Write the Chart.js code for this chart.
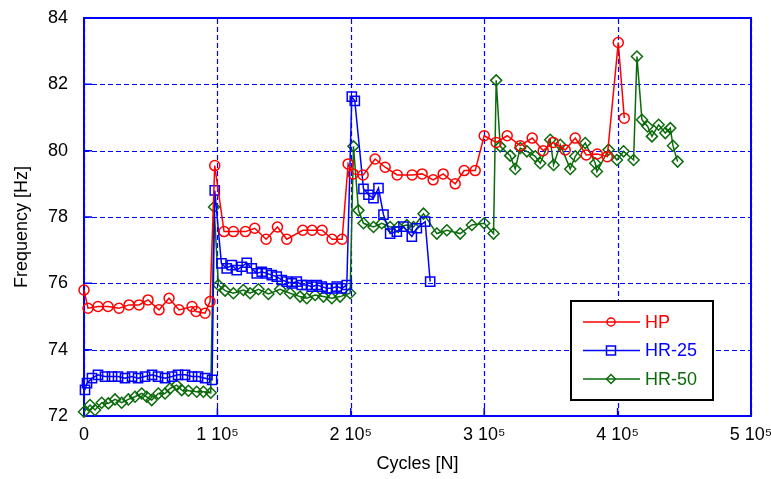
<!DOCTYPE html>
<html>
<head>
<meta charset="utf-8">
<title>Frequency vs cycles</title>
<script src="https://cdn.jsdelivr.net/npm/chart.js@4.4.1/dist/chart.umd.min.js"></script>
<style>
    html, body { margin: 0; padding: 0; background: #fff; }
    #wrap { width: 771px; height: 479px; position: relative; }
</style>
</head>
<body>
<div id="wrap"><canvas id="freqChart" width="771" height="479"></canvas></div>
<script>
// Data (cycles, frequency in Hz)
const hpCycles = [0, 3000, 10500, 18000, 26250, 33750, 41250, 48000, 56250, 63750, 71250, 81000, 84000, 90750, 94500,
    98000, 105000, 112000, 121000, 128000, 136500, 145000, 152000, 164000, 171000, 178500, 186000, 193500,
    198000, 201750, 209250, 218250, 225750, 234750, 246000, 253500, 261750, 269250, 278250, 285000, 293250,
    300000, 309000, 317250, 327000, 336000, 344250, 351750, 360750, 368250, 376500, 384750, 392250,
    400500, 405000];
const hpFreq = [75.8, 75.25, 75.3, 75.3, 75.25, 75.35, 75.35, 75.5, 75.2, 75.55, 75.2, 75.3, 75.15, 75.1, 75.45,
    79.55, 77.56, 77.56, 77.56, 77.66, 77.33, 77.7, 77.33, 77.6, 77.6, 77.6, 77.33, 77.33,
    79.6, 79.3, 79.27, 79.75, 79.5, 79.27, 79.27, 79.3, 79.12, 79.3, 79.0, 79.4, 79.4,
    80.45, 80.25, 80.45, 80.15, 80.38, 80.0, 80.25, 80.02, 80.38, 79.87, 79.9, 79.82,
    83.26, 80.98];

const hr25Cycles = [750, 2250, 6000, 10500, 15750, 21000, 25500, 30750, 36000, 40500, 45750, 51000, 55500, 60750,
    66000, 70500, 75750, 81000, 85500, 90750, 96000,
    98000, 103000, 107000, 110750, 114500, 118250, 122000, 125750, 129500, 133250, 137000, 140750, 144500,
    148250, 152000, 155750, 159500, 163250, 167000, 170750, 174500, 178250, 182000, 185750, 189500, 193250, 197000,
    200750, 203000, 209500, 213250, 217000, 220750, 224500, 229500, 234500, 239500, 245750, 249500, 255750, 259500];
const hr25Freq = [72.79, 72.99, 73.14, 73.24, 73.19, 73.19, 73.19, 73.14, 73.19, 73.14, 73.19, 73.24, 73.19, 73.14,
    73.19, 73.24, 73.24, 73.19, 73.19, 73.14, 73.09,
    78.8, 76.6, 76.45, 76.55, 76.4, 76.5, 76.62, 76.45, 76.3, 76.35, 76.3, 76.25, 76.2,
    76.1, 76.05, 76.0, 76.05, 75.95, 75.95, 75.9, 75.95, 75.9, 75.85, 75.85, 75.9, 75.85, 75.95,
    81.63, 81.5, 78.85, 78.67, 78.57, 78.87, 78.07, 77.5, 77.56, 77.71, 77.41, 77.66, 77.86, 76.05];

const hr50Cycles = [0, 4500, 8250, 13250, 18250, 23250, 28250, 33250, 38250, 43250, 47000, 50750, 55750, 60750,
    64500, 69500, 73250, 78250, 84500, 89500, 95000,
    97500, 100750, 105750, 112000, 119500, 124500, 130750, 138250, 147000, 154500, 162000, 167000, 173250,
    179500, 185750, 192000, 199500,
    202000, 205750, 209500, 217000, 223250, 229500, 235500, 242000, 247000, 254500, 264500, 272000, 282000,
    290750, 300000, 307000,
    309000, 312000, 319500, 323250, 327000, 332000, 338250, 342000, 349500, 352000, 357000, 364500, 368250,
    375750, 383250, 384500, 393250, 399500, 404500, 412000,
    414500, 418250, 422500, 425750, 430750, 435750, 439500, 441500, 445000];
const hr50Freq = [72.13, 72.33, 72.18, 72.4, 72.38, 72.5, 72.4, 72.5, 72.58, 72.68, 72.58, 72.48, 72.68, 72.68,
    72.83, 72.93, 72.78, 72.76, 72.73, 72.73, 72.7,
    78.3, 75.95, 75.78, 75.7, 75.8, 75.7, 75.82, 75.68, 75.82, 75.7, 75.6, 75.55, 75.65,
    75.6, 75.55, 75.6, 75.7,
    80.13, 78.2, 77.81, 77.7, 77.81, 77.7, 77.7, 77.76, 77.7, 78.1, 77.5, 77.6, 77.5,
    77.76, 77.81, 77.5,
    82.12, 80.13, 79.85, 79.45, 80.08, 79.98, 79.83, 79.62, 80.33, 79.57, 80.18, 79.45, 79.83,
    80.23, 79.62, 79.37, 80.03, 79.72, 79.98, 79.72,
    82.84, 80.93, 80.73, 80.43, 80.78, 80.53, 80.68, 80.15, 79.67];

const seriesNames = ['HP', 'HR-25', 'HR-50'];
const xTicks = [0, 100000, 200000, 300000, 400000, 500000];
const xTickLabels = ['0', '1 10\u2075', '2 10\u2075', '3 10\u2075', '4 10\u2075', '5 10\u2075'];
const yTicks = [72, 74, 76, 78, 80, 82, 84];
const yTitle = 'Frequency [Hz]';

const RED = '#ff0000';
const BLUE = '#0000ff';
const GREEN = '#0b6b0b';
const FONT = 'Arial, "Liberation Sans", sans-serif';

function toPoints(xs, ys) {
    return xs.map((x, i) => ({ x: x, y: ys[i] }));
}

// dashed grid, blue box round the plot, short solid inner ticks
const framePlugin = {
    id: 'frame',
    beforeDatasetsDraw(chart) {
        const { ctx, chartArea: a, scales } = chart;
        ctx.save();
        ctx.strokeStyle = BLUE;

        ctx.lineWidth = 1.2;
        ctx.setLineDash([5, 3]);
        ctx.beginPath();
        xTicks.forEach(v => {
            const px = Math.round(scales.x.getPixelForValue(v)) + 0.5;
            ctx.moveTo(px, a.bottom);
            ctx.lineTo(px, a.top);
        });
        yTicks.forEach(v => {
            const py = Math.round(scales.y.getPixelForValue(v)) + 0.5;
            ctx.moveTo(a.left, py);
            ctx.lineTo(a.right, py);
        });
        ctx.stroke();
        ctx.setLineDash([]);

        ctx.lineWidth = 1.5;
        ctx.beginPath();
        xTicks.forEach(v => {
            const px = scales.x.getPixelForValue(v);
            ctx.moveTo(px, a.bottom);
            ctx.lineTo(px, a.bottom - 8);
        });
        yTicks.forEach(v => {
            const py = scales.y.getPixelForValue(v);
            ctx.moveTo(a.left, py);
            ctx.lineTo(a.left + 8, py);
        });
        ctx.stroke();

        ctx.lineWidth = 2;
        ctx.strokeRect(a.left, a.top, a.right - a.left, a.bottom - a.top);
        ctx.restore();
    },
    afterDraw(chart) {
        // y title sits a little below the plot's middle in the reference
        const ctx = chart.ctx;
        ctx.save();
        ctx.translate(22, 227);
        ctx.rotate(-Math.PI / 2);
        ctx.font = '18px ' + FONT;
        ctx.fillStyle = '#000';
        ctx.textAlign = 'center';
        ctx.textBaseline = 'middle';
        ctx.fillText(yTitle, 0, 0);
        ctx.restore();
    }
};

function drawMarker(ctx, style, x, y, r) {
    ctx.beginPath();
    if (style === 'circle') {
        ctx.arc(x, y, r, 0, Math.PI * 2);
    } else if (style === 'rect') {
        ctx.rect(x - r, y - r, r * 2, r * 2);
    } else {
        ctx.moveTo(x, y - r);
        ctx.lineTo(x + r, y);
        ctx.lineTo(x, y + r);
        ctx.lineTo(x - r, y);
        ctx.closePath();
    }
    ctx.stroke();
}

// boxed legend in the lower right of the plot
const boxLegend = {
    id: 'boxLegend',
    afterDraw(chart) {
        const ctx = chart.ctx;
        const bx = 571, by = 301, bw = 142, bh = 99;
        ctx.save();
        ctx.fillStyle = '#fff';
        ctx.fillRect(bx, by, bw, bh);
        ctx.strokeStyle = '#000';
        ctx.lineWidth = 2;
        ctx.strokeRect(bx, by, bw, bh);
        ctx.font = '18px ' + FONT;
        ctx.textBaseline = 'middle';
        chart.data.datasets.forEach((ds, i) => {
            const y = 322 + i * 28.5;
            ctx.strokeStyle = ds.borderColor;
            ctx.lineWidth = 1.5;
            ctx.beginPath();
            ctx.moveTo(583, y);
            ctx.lineTo(640, y);
            ctx.stroke();
            drawMarker(ctx, ds.pointStyle, 611, y, ds.pointStyle === 'circle' ? 4 : 4.5);
            ctx.fillStyle = ds.borderColor;
            ctx.fillText(ds.label, 645, y + 1);
        });
        ctx.restore();
    }
};

const ctx = document.getElementById('freqChart').getContext('2d');
const chart = new Chart(ctx, {
    type: 'line',
    data: {
        datasets: [{
            label: seriesNames[0],
            data: toPoints(hpCycles, hpFreq),
            borderColor: RED,
            pointStyle: 'circle',
            pointRadius: 5,
            pointBorderWidth: 1.5
        }, {
            label: seriesNames[1],
            data: toPoints(hr25Cycles, hr25Freq),
            borderColor: BLUE,
            pointStyle: 'rect',
            pointRadius: 6.5,
            pointBorderWidth: 1.5
        }, {
            label: seriesNames[2],
            data: toPoints(hr50Cycles, hr50Freq),
            borderColor: GREEN,
            pointStyle: 'rectRot',
            pointRadius: 5.5,
            pointBorderWidth: 1.5
        }].map(ds => Object.assign({
            borderWidth: 1.5,
            pointBackgroundColor: 'rgba(0,0,0,0)',
            pointBorderColor: ds.borderColor,
            tension: 0,
            clip: false
        }, ds))
    },
    options: {
        responsive: false,
        animation: false,
        layout: { padding: { top: 18, right: 20, left: 42, bottom: 0 } },
        plugins: {
            legend: { display: false },
            tooltip: { enabled: false }
        },
        scales: {
            x: {
                type: 'linear',
                min: 0,
                max: 500000,
                afterFit: (scale) => {
                    scale.height = 63;
                    scale.paddingLeft = 0;
                    scale.paddingRight = 0;
                },
                afterBuildTicks: (scale) => { scale.ticks = xTicks.map(v => ({ value: v })); },
                ticks: {
                    color: '#000',
                    padding: 8,
                    maxRotation: 0,
                    font: { family: FONT, size: 18 },
                    callback: (v) => xTickLabels[xTicks.indexOf(v)]
                },
                grid: { display: false, drawTicks: false },
                border: { display: false },
                title: {
                    display: true,
                    text: 'Cycles [N]',
                    color: '#000',
                    font: { family: FONT, size: 18 },
                    padding: { top: 4, bottom: 4 }
                }
            },
            y: {
                min: 72,
                max: 84,
                afterFit: (scale) => {
                    scale.width = 42;
                    scale.paddingTop = 0;
                    scale.paddingBottom = 0;
                },
                afterBuildTicks: (scale) => { scale.ticks = yTicks.map(v => ({ value: v })); },
                ticks: {
                    color: '#000',
                    padding: 16,
                    font: { family: FONT, size: 18 }
                },
                grid: { display: false, drawTicks: false },
                border: { display: false }
            }
        }
    },
    plugins: [framePlugin, boxLegend]
});
</script>
</body>
</html>
